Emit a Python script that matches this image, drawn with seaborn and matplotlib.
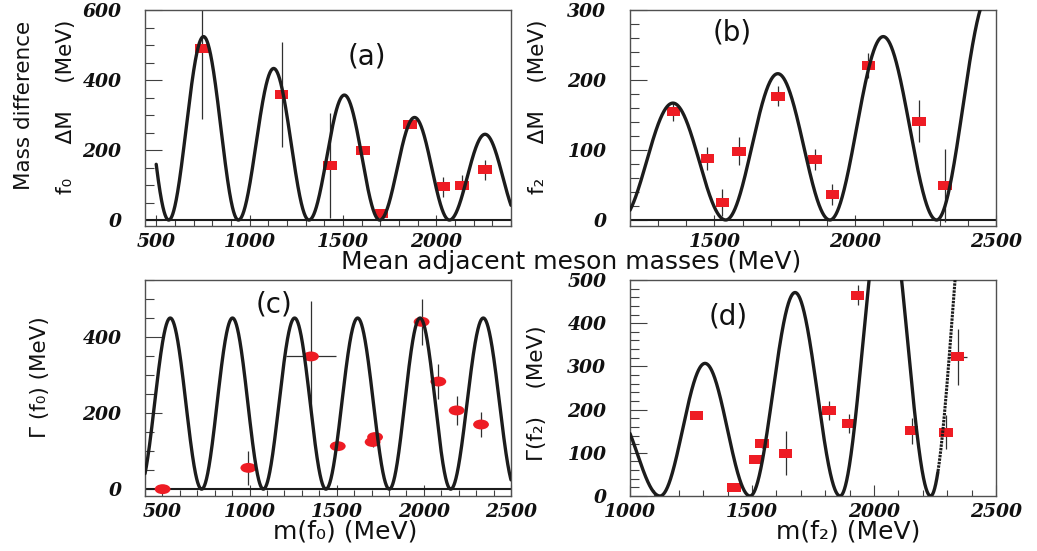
import numpy as np
import pandas as pd
import matplotlib
matplotlib.use("Agg")
import matplotlib.pyplot as plt
from matplotlib.path import Path
from matplotlib.markers import MarkerStyle
from matplotlib.transforms import Affine2D
from matplotlib.ticker import MultipleLocator
import seaborn as sns

# ---------------- data ----------------
# (a) f0: mass difference of adjacent states vs their mean mass
a_mass = [745, 1171, 1430, 1606, 1707, 1859, 2038, 2137, 2261]
a_dm = [490, 360, 157, 198, 19, 273, 95, 100, 143]
a_err = [200, 150, 150, 8, 8, 8, 28, 28, 29]
a_nodes = [192, 567, 940, 1318, 1697, 2070, 2452]
a_peaks = [562, 524, 433, 357, 293, 245]

# (b) f2: mass difference of adjacent states vs their mean mass
b_mass = [1354, 1475, 1528, 1588, 1725, 1857, 1919, 2047, 2227, 2319]
b_dm = [155, 88, 25, 98, 177, 86, 37, 221, 141, 49]
b_err = [13, 16, 19, 20, 14, 15, 15, 18, 30, 52]
b_nodes = [1165, 1540, 1910, 2289, 2662]
b_peaks = [167, 209, 262, 323]

# (c) f0 widths vs mass
c_mass = [501, 993, 1352, 1506, 1706, 1720, 1987, 2083, 2188, 2328]
c_width = [0, 56, 349, 113, 124, 137, 440, 283, 207, 170]
c_err = [0, 44, 147, 8, 12, 8, 60, 46, 39, 33]
c_xerr = [0, 0, 145, 0, 0, 0, 0, 0, 0, 0]
c_nodes = [365, 725, 1079, 1438, 1802, 2154, 2528]
c_peaks = [450, 450, 450, 450, 450, 450]

# (d) f2 widths vs mass
d_mass = [1273, 1427, 1515, 1540, 1638, 1816, 1898, 1933, 2154, 2294, 2343]
d_width = [186, 20, 85, 122, 99, 197, 167, 465, 151, 148, 322]
d_err = [5, 5, 5, 10, 51, 22, 22, 24, 30, 40, 64]
d_xerr = [0, 0, 0, 0, 0, 0, 0, 0, 0, 0, 38]
d_nodes = [754, 1123, 1492, 1861, 2232, 2603]
d_peaks = [193, 307, 471, 700, 890]


def lobe_curve(x, nodes, peaks):
    """Oscillating curve: one sin^2 lobe of given height between each pair of nodes."""
    nodes = np.asarray(nodes, float)
    peaks = np.asarray(peaks, float)
    k = np.clip(np.searchsorted(nodes, x) - 1, 0, len(peaks) - 1)
    t = (x - nodes[k]) / (nodes[k + 1] - nodes[k])
    return peaks[k] * np.sin(np.pi * t) ** 2


# ---------------- style ----------------
sns.set_theme(style="ticks")
plt.rcParams["font.family"] = ["DejaVu Sans"]
RED = "#ee1c24"
INK = "#1c1c1c"
FRAME = "#505050"
W, H = 1037, 551

rect = MarkerStyle(Path([(-1.5, -1), (1.5, -1), (1.5, 1), (-1.5, 1), (-1.5, -1)], closed=True))
ell = MarkerStyle(Path.unit_circle().transformed(Affine2D().scale(1.6, 1.0)))

fig = plt.figure(figsize=(W / 100, H / 100), dpi=100)
fig.patch.set_facecolor("white")

boxes = {
    "a": [145 / W, 1 - 226 / H, 366 / W, 216 / H],
    "b": [630 / W, 1 - 226 / H, 366 / W, 216 / H],
    "c": [145 / W, 1 - 496 / H, 366 / W, 216 / H],
    "d": [630 / W, 1 - 496 / H, 366 / W, 216 / H],
}

panels = {
    "a": dict(x=a_mass, y=a_dm, yerr=a_err, xerr=None, nodes=a_nodes, peaks=a_peaks,
              xlim=(440, 2400), ylim=(-17, 600), cx=(500, 2400), ymaj=200, ymin=50,
              marker=rect, s=95, zero=True, dotted_from=None),
    "b": dict(x=b_mass, y=b_dm, yerr=b_err, xerr=None, nodes=b_nodes, peaks=b_peaks,
              xlim=(1200, 2500), ylim=(-8.6, 300), cx=(1200, 2500), ymaj=100, ymin=20,
              marker=rect, s=95, zero=True, dotted_from=None),
    "c": dict(x=c_mass, y=c_width, yerr=c_err, xerr=c_xerr, nodes=c_nodes, peaks=c_peaks,
              xlim=(400, 2500), ylim=(-18, 550), cx=(400, 2500), ymaj=200, ymin=50,
              marker=ell, s=130, zero=True, dotted_from=None),
    "d": dict(x=d_mass, y=d_width, yerr=d_err, xerr=d_xerr, nodes=d_nodes, peaks=d_peaks,
              xlim=(1000, 2500), ylim=(0, 500), cx=(1000, 2500), ymaj=100, ymin=20,
              marker=rect, s=95, zero=False, dotted_from=2262),
}

tick_font = dict(family="DejaVu Serif", weight="bold", style="italic", size=13.5)

for key, p in panels.items():
    ax = fig.add_axes(boxes[key])
    ax.set_facecolor("white")

    # measured points with error bars
    ax.errorbar(p["x"], p["y"], yerr=p["yerr"], xerr=p["xerr"], fmt="none",
                ecolor="#303030", elinewidth=0.9, capsize=0, zorder=2)
    sns.scatterplot(x=p["x"], y=p["y"], ax=ax, marker=p["marker"], s=p["s"],
                    color=RED, edgecolor="none", linewidth=0, zorder=3, legend=False)

    # oscillating model curve
    xs = np.linspace(p["cx"][0], p["cx"][1], 2500)
    curve = pd.DataFrame({"m": xs, "v": lobe_curve(xs, p["nodes"], p["peaks"])})
    cut = p["dotted_from"]
    solid = curve if cut is None else curve[curve["m"] <= cut]
    sns.lineplot(data=solid, x="m", y="v", ax=ax, color=INK, linewidth=2.4,
                 estimator=None, sort=False, zorder=4)
    if cut is not None:
        # steep rising branch drawn with the sparse-sample look
        sns.lineplot(data=curve[curve["m"] >= cut], x="m", y="v", ax=ax, color=INK,
                     linewidth=2.2, linestyle=(0, (0.8, 0.35)),
                     estimator=None, sort=False, zorder=4)

    if p["zero"]:
        ax.axhline(0, color=INK, linewidth=1.5, zorder=1)

    ax.set_xlim(*p["xlim"])
    ax.set_ylim(*p["ylim"])
    ax.set_xlabel("")
    ax.set_ylabel("")
    ax.xaxis.set_major_locator(MultipleLocator(500))
    ax.xaxis.set_minor_locator(MultipleLocator(100))
    ax.yaxis.set_major_locator(MultipleLocator(p["ymaj"]))
    ax.yaxis.set_minor_locator(MultipleLocator(p["ymin"]))
    ax.tick_params(axis="both", which="both", direction="in", colors="#404040",
                   width=0.8, top=False, right=False)
    ax.tick_params(axis="x", which="major", length=8, pad=5)
    ax.tick_params(axis="x", which="minor", length=4.6)
    ax.tick_params(axis="y", which="major", length=12, pad=17)
    ax.tick_params(axis="y", which="minor", length=6.3)
    for lab in ax.get_xticklabels() + ax.get_yticklabels():
        lab.set_fontproperties(tick_font)
        lab.set_color("#111111")
    for sp in ax.spines.values():
        sp.set_visible(True)
        sp.set_color(FRAME)
        sp.set_linewidth(1.0)

# panel tags
label_kw = dict(fontsize=20, color="#111111", ha="center", va="center")
fig.text(367 / W, 1 - 57 / H, "(a)", **label_kw)
fig.text(732 / W, 1 - 33 / H, "(b)", **label_kw)
fig.text(274 / W, 1 - 304 / H, "(c)", **label_kw)
fig.text(728 / W, 1 - 316 / H, "(d)", **label_kw)

# axis titles
xl_kw = dict(fontsize=18, color="#111111", ha="center", va="center")
fig.text(571 / W, 1 - 262 / H, "Mean adjacent meson masses (MeV)", **xl_kw)
fig.text(345 / W, 1 - 532 / H, "m(f₀) (MeV)", **xl_kw)
fig.text(848 / W, 1 - 532 / H, "m(f₂) (MeV)", **xl_kw)

yl_kw = dict(fontsize=15.5, color="#111111", ha="center", va="center", rotation=90)
fig.text(24 / W, 1 - 105 / H, "Mass difference", **yl_kw)
fig.text(66 / W, 1 - 107 / H, "f₀     ΔM    (MeV)", **yl_kw)
fig.text(538 / W, 1 - 107 / H, "f₂     ΔM    (MeV)", **yl_kw)
fig.text(40 / W, 1 - 377 / H, "Γ (f₀) (MeV)", **yl_kw)
fig.text(537 / W, 1 - 393 / H, "Γ(f₂)    (MeV)", **yl_kw)

fig.savefig("out.png", dpi=100, facecolor="white")
